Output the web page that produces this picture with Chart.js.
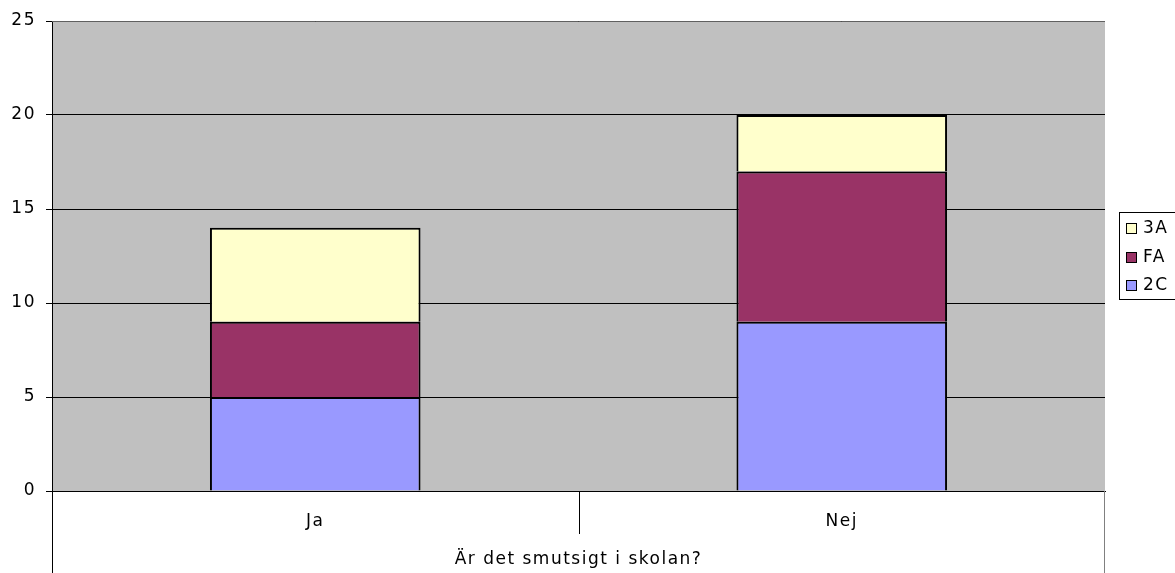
<!DOCTYPE html>
<html>
<head>
<meta charset="utf-8">
<script src="https://cdn.jsdelivr.net/npm/chart.js@4/dist/chart.umd.min.js"></script>
<style>
html,body{margin:0;padding:0;background:#fff;}
#wrap{width:1175px;height:573px;position:relative;}
</style>
</head>
<body>
<div id="wrap"><canvas id="c" width="1175" height="573"></canvas></div>
<script>
const categories = ['Ja', 'Nej'];
const series2C = [5, 9];
const seriesFA = [4, 8];
const series3A = [5, 3];
const yTicks = [0, 5, 10, 15, 20, 25];
const axisTitle = 'Är det smutsigt i skolan?';

const FONT = 'DejaVu Sans, Verdana, sans-serif';

const bgPlugin = {
  id: 'bg',
  beforeDraw(chart) {
    const {ctx, chartArea: a} = chart;
    ctx.letterSpacing = '1.5px';
    ctx.save();
    ctx.fillStyle = '#C0C0C0';
    ctx.fillRect(a.left, a.top, a.right - a.left, a.bottom - a.top);
    ctx.restore();
  },
  afterDraw(chart) {
    const {ctx, chartArea: a} = chart;
    const x = chart.scales.x;
    ctx.save();
    ctx.strokeStyle = '#606060';
    ctx.lineWidth = 1;
    ctx.beginPath();
    ctx.moveTo(a.left, Math.round(a.top) + 0.5);
    ctx.lineTo(a.right, Math.round(a.top) + 0.5);
    ctx.stroke();
    // outer vertical lines below the plot
    ctx.strokeStyle = '#000';
    ctx.beginPath();
    ctx.moveTo(Math.round(a.left) + 0.5, a.bottom);
    ctx.lineTo(Math.round(a.left) + 0.5, chart.height);
    ctx.stroke();
    ctx.strokeStyle = '#808080';
    ctx.beginPath();
    ctx.moveTo(Math.round(a.right) - 0.5, a.bottom);
    ctx.lineTo(Math.round(a.right) - 0.5, chart.height);
    ctx.stroke();
    // separators between categories
    ctx.strokeStyle = '#000';
    for (let i = 0; i < categories.length - 1; i++) {
      const px = (x.getPixelForValue(i) + x.getPixelForValue(i + 1)) / 2;
      ctx.beginPath();
      ctx.moveTo(Math.round(px) + 0.5, a.bottom);
      ctx.lineTo(Math.round(px) + 0.5, a.bottom + 43);
      ctx.stroke();
    }
    // legend
    const items = chart.data.datasets.slice().reverse();
    const lx = 1119, ly = 212, lh = 87;
    ctx.strokeStyle = '#000';
    ctx.strokeRect(lx + 0.5, ly + 0.5, 80, lh);
    ctx.font = '17px ' + FONT;
    ctx.textBaseline = 'middle';
    ctx.textAlign = 'left';
    items.forEach((ds, i) => {
      const cy = 228 + i * 28.5;
      ctx.fillStyle = ds.backgroundColor;
      ctx.fillRect(1126, Math.round(cy - 5), 10, 10);
      ctx.strokeStyle = '#000';
      ctx.strokeRect(1126.5, Math.round(cy - 5) + 0.5, 10, 10);
      ctx.fillStyle = '#000';
      ctx.fillText(ds.label, 1143, cy + 1);
    });
    ctx.restore();
  }
};

new Chart(document.getElementById('c'), {
  type: 'bar',
  data: {
    labels: categories,
    datasets: [
      {label: '2C', data: series2C, backgroundColor: '#9999FF', borderColor: '#000', borderWidth: 2},
      {label: 'FA', data: seriesFA, backgroundColor: '#993366', borderColor: '#000', borderWidth: 2},
      {label: '3A', data: series3A, backgroundColor: '#FFFFCC', borderColor: '#000', borderWidth: 2}
    ]
  },
  options: {
    responsive: false,
    animation: false,
    devicePixelRatio: 1,
    layout: {padding: {left: 0, top: 21, right: 70, bottom: 0}},
    datasets: {bar: {categoryPercentage: 1, barPercentage: 0.4}},
    plugins: {legend: {display: false}, tooltip: {enabled: false}},
    scales: {
      x: {
        stacked: true,
        grid: {display: false, drawTicks: false},
        border: {display: true, color: '#000', width: 1},
        ticks: {color: '#000', font: {family: FONT, size: 17}, padding: 20},
        title: {display: true, text: axisTitle, color: '#000', font: {family: FONT, size: 17}, padding: {top: 12, bottom: 3}},
        afterFit(s) { s.height = 82; }
      },
      y: {
        stacked: true,
        min: 0, max: 25,
        afterBuildTicks(s) { s.ticks = yTicks.map(v => ({value: v})); },
        grid: {color: '#000', tickColor: '#000', tickLength: 6, lineWidth: 1},
        border: {display: true, color: '#000', width: 1},
        ticks: {color: '#000', font: {family: FONT, size: 17}, padding: 10},
        afterFit(s) { s.width = 52; }
      }
    }
  },
  plugins: [bgPlugin]
});
</script>
</body>
</html>
